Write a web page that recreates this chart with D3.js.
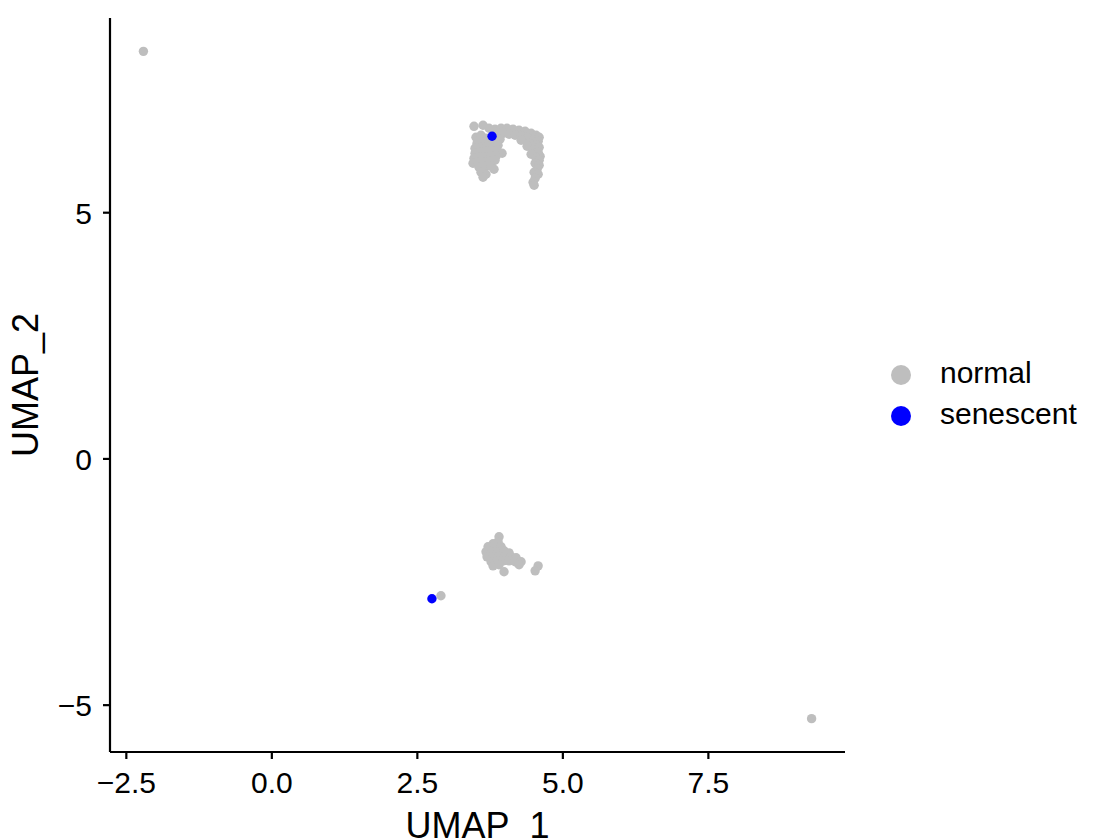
<!DOCTYPE html>
<html>
<head>
<meta charset="utf-8">
<script src="https://cdn.jsdelivr.net/npm/d3@7"></script>
<style>
  html, body { margin: 0; padding: 0; background: #fff; }
  svg { display: block; font-family: "Liberation Sans", Arial, Helvetica, sans-serif; }
</style>
</head>
<body>
<svg id="chart" width="1093" height="839"></svg>
<script>
// ---- data ----
const categories = ["normal", "senescent"];
const colors = ["#BEBEBE", "#0000FF"];

const normalX = [
  // outliers
  -2.198, 9.282, 2.914,
  // top cluster: top rows
  3.482, 3.637, 3.740, 3.843, 3.947, 4.050, 4.153, 4.256, 4.360, 4.463, 4.549, 4.601,
  3.878, 3.981, 4.084, 4.188, 4.291, 4.394, 4.497, 4.584,
  // top cluster: right arc
  4.291, 4.429, 4.549, 4.601, 4.394, 4.497, 4.584, 4.618, 4.463, 4.549, 4.601, 4.532, 4.601, 4.566, 4.515, 4.584, 4.532, 4.497, 4.515,
  // top cluster: left body
  3.516, 3.602, 3.688, 3.534, 3.637, 3.740, 3.843, 3.929, 3.499, 3.602, 3.706, 3.809, 3.895,
  3.499, 3.585, 3.688, 3.792, 3.878, 3.964, 3.482, 3.568, 3.671, 3.775, 3.861,
  3.465, 3.551, 3.654, 3.757, 3.843, 3.568, 3.671, 3.775, 3.826, 3.602, 3.688, 3.637,
  // bottom cluster
  3.912, 3.895, 3.809, 3.723, 3.843, 3.947, 3.688, 3.792, 3.895, 3.998, 4.084,
  3.706, 3.809, 3.912, 4.015, 4.119, 4.205, 3.775, 3.878, 3.981, 4.084, 4.188, 4.291,
  3.809, 3.912, 4.256, 3.998, 4.584, 4.532
];
const normalY = [
  8.266, -5.284, -2.789,
  6.744, 6.765, 6.704, 6.684, 6.704, 6.704, 6.684, 6.663, 6.643, 6.602, 6.562, 6.521,
  6.602, 6.602, 6.582, 6.562, 6.542, 6.501, 6.460, 6.440,
  6.460, 6.400, 6.359, 6.318, 6.339, 6.258, 6.217, 6.136, 6.176, 6.095, 6.055, 5.994, 5.953, 5.872, 5.811, 5.771, 5.690, 5.609, 5.548,
  6.521, 6.562, 6.501, 6.400, 6.420, 6.440, 6.460, 6.481, 6.298, 6.318, 6.339, 6.359, 6.359,
  6.197, 6.217, 6.237, 6.237, 6.258, 6.197, 6.095, 6.116, 6.116, 6.136, 6.136,
  5.994, 6.014, 6.014, 6.034, 6.055, 5.913, 5.933, 5.933, 5.872, 5.811, 5.771, 5.710,
  -1.592, -1.694, -1.734, -1.795, -1.815, -1.795, -1.897, -1.897, -1.897, -1.876, -1.917,
  -1.998, -1.998, -1.978, -1.978, -1.998, -2.018, -2.099, -2.079, -2.079, -2.079, -2.099, -2.099,
  -2.181, -2.160, -2.160, -2.302, -2.181, -2.282
];
const senescentX = [3.792, 2.759];
const senescentY = [6.542, -2.850];

const xTicks = [-2.5, 0.0, 2.5, 5.0, 7.5];
const yTicks = [-5, 0, 5];
const xTickLabels = ["\u22122.5", "0.0", "2.5", "5.0", "7.5"];
const yTickLabels = ["\u22125", "0", "5"];
const xTitle = "UMAP_1";
const yTitle = "UMAP_2";

// ---- build points ----
const points = [];
normalX.forEach((v, i) => points.push({x: v, y: normalY[i], g: 0}));
senescentX.forEach((v, i) => points.push({x: v, y: senescentY[i], g: 1}));

// ---- layout ----
const svg = d3.select("#chart");
const pLeft = 110, pRight = 845, pTop = 18, pBottom = 752;

const allX = points.map(d => d.x), allY = points.map(d => d.y);
const [x0, x1] = d3.extent(allX), [y0, y1] = d3.extent(allY);
const ex = (x1 - x0) * 0.05, ey = (y1 - y0) * 0.05;

const xs = d3.scaleLinear().domain([x0 - ex, x1 + ex]).range([pLeft, pRight]);
const ys = d3.scaleLinear().domain([y0 - ey, y1 + ey]).range([pBottom, pTop]);

// points
svg.append("g").selectAll("circle")
  .data(points)
  .join("circle")
  .attr("cx", d => xs(d.x))
  .attr("cy", d => ys(d.y))
  .attr("r", 4.7)
  .attr("fill", d => colors[d.g]);

// axes
const xAxis = d3.axisBottom(xs).tickValues(xTicks).tickSize(7).tickSizeOuter(0)
  .tickFormat((d, i) => xTickLabels[i]);
const yAxis = d3.axisLeft(ys).tickValues(yTicks).tickSize(7).tickSizeOuter(0)
  .tickFormat((d, i) => yTickLabels[i]);

const gx = svg.append("g").attr("transform", `translate(0,${pBottom})`).call(xAxis);
const gy = svg.append("g").attr("transform", `translate(${pLeft},0)`).call(yAxis);

[gx, gy].forEach(g => {
  g.select(".domain").attr("stroke", "#000").attr("stroke-width", 2.2);
  g.selectAll(".tick line").attr("stroke", "#000").attr("stroke-width", 2.2);
  g.selectAll(".tick text").attr("fill", "#000").attr("font-size", 30)
    .attr("font-family", "Liberation Sans, Arial, sans-serif");
});
gx.select(".domain").attr("d", `M${pLeft},0H${pRight}`);
gy.select(".domain").attr("d", `M0,${pTop}V${pBottom}`);
gx.selectAll(".tick text").attr("dy", "0.71em").attr("y", 20);
gy.selectAll(".tick text").attr("x", -18).attr("dy", "0.36em");

// axis titles
svg.append("text")
  .attr("x", (pLeft + pRight) / 2).attr("y", 838)
  .attr("text-anchor", "middle")
  .attr("font-size", 36).attr("fill", "#000")
  .text(xTitle);
svg.append("text")
  .attr("transform", `translate(38,${(pTop + pBottom) / 2}) rotate(-90)`)
  .attr("text-anchor", "middle")
  .attr("font-size", 36).attr("fill", "#000")
  .text(yTitle);

// legend
const lg = svg.append("g");
categories.forEach((c, i) => {
  const cy = 375 + i * 41;
  lg.append("circle").attr("cx", 901).attr("cy", cy).attr("r", 10).attr("fill", colors[i]);
  lg.append("text").attr("x", 940).attr("y", cy + 8)
    .attr("font-size", 30).attr("fill", "#000").text(c);
});
</script>
</body>
</html>
